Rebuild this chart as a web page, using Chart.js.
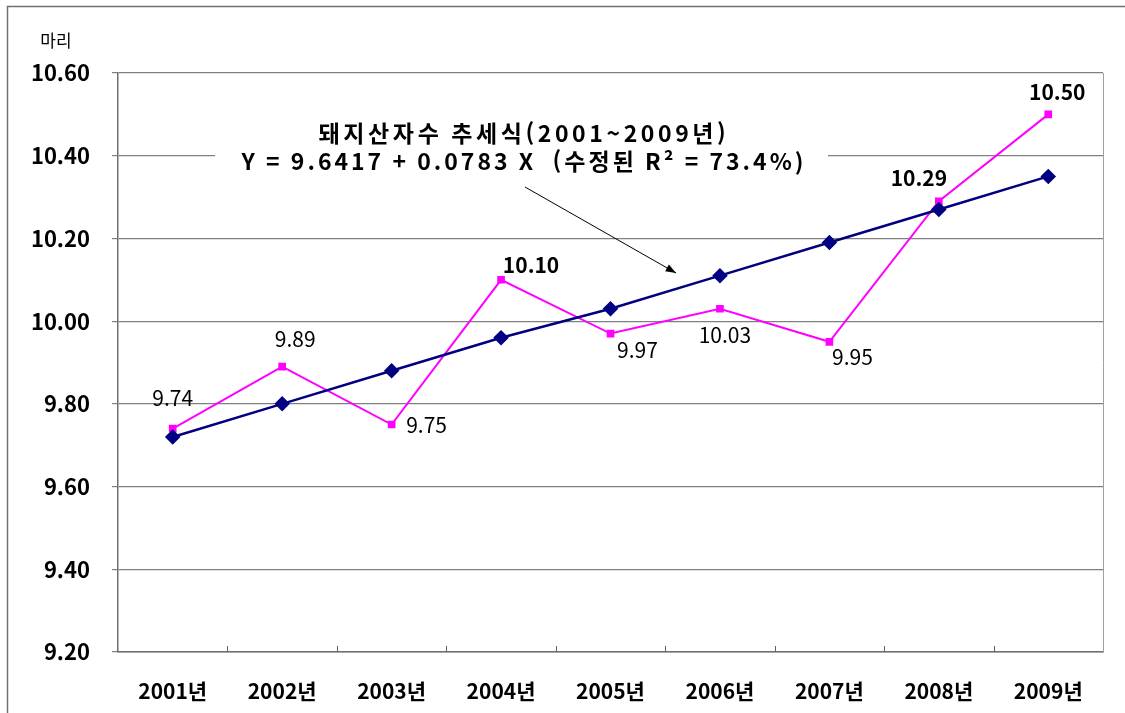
<!DOCTYPE html>
<html lang="ko">
<head>
    <meta charset="UTF-8">
    <title>돼지산자수 추세</title>
    <script src="https://cdn.jsdelivr.net/npm/chart.js"></script>
    <style>
        body {
            margin: 0;
            background: #ffffff;
        }
        #pigChart {
            display: block;
        }
    </style>
</head>
<body>
    <canvas id="pigChart" width="1125" height="713"></canvas>

    <script>
        // 데이터
        const years = ["2001년", "2002년", "2003년", "2004년", "2005년", "2006년", "2007년", "2008년", "2009년"];
        const litterSize = [9.74, 9.89, 9.75, 10.10, 9.97, 10.03, 9.95, 10.29, 10.50];
        const trendValues = [9.72, 9.80, 9.88, 9.96, 10.03, 10.11, 10.19, 10.27, 10.35];
        const yTicks = [9.20, 9.40, 9.60, 9.80, 10.00, 10.20, 10.40, 10.60];
        const unitLabel = "마리";
        const noteLines = ["돼지산자수 추세식(2001~2009년)", "Y = 9.6417 + 0.0783 X  (수정된 R² = 73.4%)"];

        const FONT = "'Noto Sans CJK KR', 'Noto Sans', sans-serif";

        // 값 라벨 위치 (점 기준 오프셋)
        const labelOffsets = [[0, -31], [13, -28], [35, 0], [30, -15], [27, 16], [5, 26], [23, 15], [-20, -23], [9, -22]];
        const labelBold = [false, false, false, true, false, false, false, true, true];

        const extras = {
            id: "extras",
            beforeDatasetsDraw(chart) {
                const c = chart.ctx;
                const area = chart.chartArea;
                const x = chart.scales.x;
                const y = chart.scales.y;
                c.save();
                // 바깥 테두리
                c.strokeStyle = "#707070";
                c.lineWidth = 1.5;
                c.strokeRect(7.5, 6.5, 1200, 800);
                // 오른쪽 테두리
                c.strokeStyle = "#a0a0a0";
                c.lineWidth = 1;
                c.beginPath();
                c.moveTo(area.right + 0.5, area.top);
                c.lineTo(area.right + 0.5, area.bottom);
                c.stroke();
                // x축 눈금 (안쪽)
                c.strokeStyle = "#606060";
                for (let i = 0; i < years.length - 1; i++) {
                    const px = Math.round((x.getPixelForValue(i) + x.getPixelForValue(i + 1)) / 2) + 0.5;
                    c.beginPath();
                    c.moveTo(px, area.bottom);
                    c.lineTo(px, area.bottom - 6);
                    c.stroke();
                }
                // 추세식 배경 (격자선 가림)
                const gy = y.getPixelForValue(10.4);
                c.fillStyle = "#ffffff";
                c.fillRect(215, gy - 10, 613, 20);
                c.restore();
            },
            afterDraw(chart) {
                const c = chart.ctx;
                const x = chart.scales.x;
                const y = chart.scales.y;
                c.save();
                // 단위
                c.fillStyle = "#000";
                c.font = "17px " + FONT;
                c.textAlign = "center";
                c.textBaseline = "middle";
                c.fillText(unitLabel, 56, 41);

                // 추세식
                c.font = "bold 23px " + FONT;
                c.letterSpacing = "3.6px";
                c.fillText(noteLines[0], 524, 133);
                c.letterSpacing = "3px";
                c.fillText(noteLines[1], 524, 161);
                c.letterSpacing = "0px";

                // 화살표
                const ax1 = 525, ay1 = 187, ax2 = 676, ay2 = 273;
                c.strokeStyle = "#000";
                c.lineWidth = 1;
                c.beginPath();
                c.moveTo(ax1, ay1);
                c.lineTo(ax2, ay2);
                c.stroke();
                const ang = Math.atan2(ay2 - ay1, ax2 - ax1);
                c.fillStyle = "#000";
                c.beginPath();
                c.moveTo(ax2, ay2);
                c.lineTo(ax2 - 11 * Math.cos(ang - 0.35), ay2 - 11 * Math.sin(ang - 0.35));
                c.lineTo(ax2 - 11 * Math.cos(ang + 0.35), ay2 - 11 * Math.sin(ang + 0.35));
                c.closePath();
                c.fill();

                // 값 라벨
                litterSize.forEach((v, i) => {
                    const px = x.getPixelForValue(i) + labelOffsets[i][0];
                    const py = y.getPixelForValue(v) + labelOffsets[i][1];
                    c.font = (labelBold[i] ? "bold " : "") + "21px " + FONT;
                    c.fillStyle = "#000";
                    c.textAlign = "center";
                    c.textBaseline = "middle";
                    c.fillText(v.toFixed(2), px, py);
                });
                c.restore();
            }
        };

        const ctx = document.getElementById("pigChart").getContext("2d");
        const pigChart = new Chart(ctx, {
            type: "line",
            data: {
                labels: years,
                datasets: [{
                    label: "추세",
                    data: trendValues,
                    borderColor: "#000080",
                    backgroundColor: "#000080",
                    borderWidth: 2.5,
                    pointStyle: "rectRot",
                    pointRadius: 6,
                    pointHoverRadius: 6,
                    order: 0
                }, {
                    label: "산자수",
                    data: litterSize,
                    borderColor: "#ff00ff",
                    backgroundColor: "#ff00ff",
                    borderWidth: 2,
                    pointStyle: "rect",
                    pointRadius: 4,
                    pointHoverRadius: 4,
                    order: 1
                }]
            },
            options: {
                responsive: false,
                animation: false,
                layout: {
                    padding: { top: 73, right: 22, left: 0, bottom: 0 }
                },
                plugins: {
                    legend: { display: false },
                    tooltip: { enabled: false }
                },
                scales: {
                    x: {
                        offset: true,
                        grid: { display: false, drawTicks: false },
                        border: { display: true, color: "#707070", width: 1.5 },
                        ticks: {
                            color: "#000",
                            padding: 26,
                            maxRotation: 0,
                            font: { family: FONT, size: 21, weight: "bold" }
                        },
                        afterFit(scale) { scale.height = 61; }
                    },
                    y: {
                        min: yTicks[0],
                        max: yTicks[yTicks.length - 1],
                        afterBuildTicks(scale) {
                            scale.ticks = yTicks.map(v => ({ value: v }));
                        },
                        grid: {
                            color: "#808080",
                            lineWidth: 1.2,
                            drawTicks: true,
                            tickLength: 6
                        },
                        border: { display: true, color: "#707070", width: 1.5 },
                        ticks: {
                            color: "#000",
                            padding: 22,
                            font: { family: FONT, size: 22, weight: "bold" },
                            callback: (v) => Number(v).toFixed(2)
                        },
                        afterFit(scale) { scale.width = 118; }
                    }
                }
            },
            plugins: [extras]
        });
    </script>
</body>
</html>
